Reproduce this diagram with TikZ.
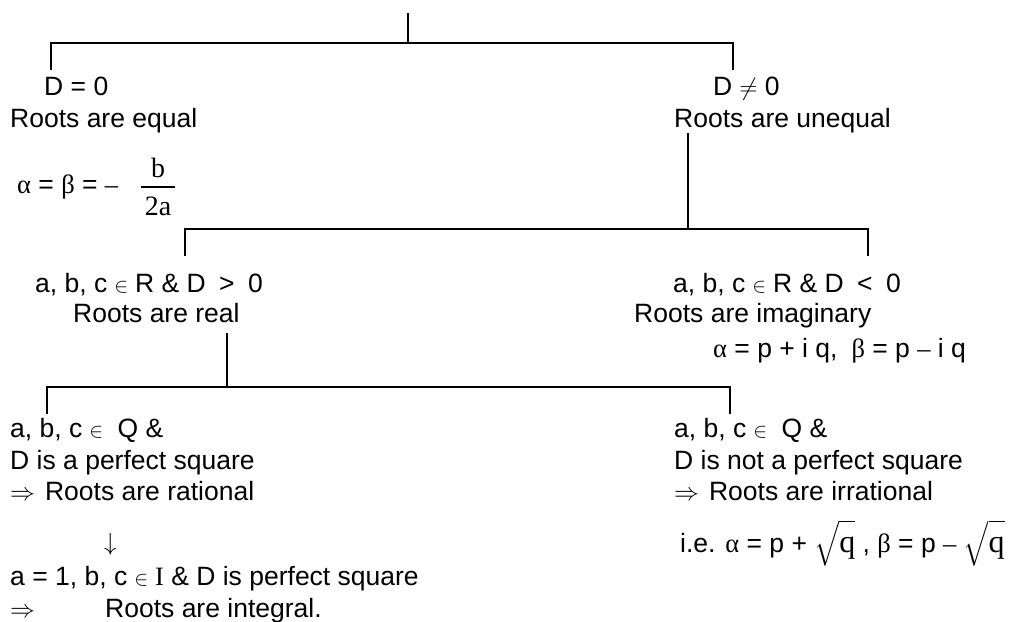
\documentclass[tikz,border=0pt]{standalone}
\usepackage{amsmath}
\usepackage{fontspec}
\setmainfont{Liberation Sans}
\newfontfamily\serif{Liberation Serif}
\newcommand{\elem}{\hspace{7pt}{\fontsize{20}{20}\selectfont$\in$}\hspace{7pt}}
\newcommand{\gr}[1]{{\serif #1}}
\newcommand{\sq}{$\sqrt{\rule[-4pt]{0pt}{25pt}\hbox{\serif\fontsize{32}{32}\selectfont q}}$}
\newcommand{\imp}{{\fontsize{30}{30}\selectfont$\Rightarrow$}\hspace{10pt}}
\begin{document}
\begin{tikzpicture}[x=1pt,y=-1pt,
  txt/.style={anchor=base west, inner sep=0pt, font=\fontsize{26.5}{31}\selectfont},
  sertxt/.style={anchor=base, inner sep=0pt, font=\serif\fontsize{28}{31}\selectfont},
  conn/.style={line width=2.6pt, line join=miter}]
\useasboundingbox (0,0) rectangle (1014,621);

% texts
\node[txt] (d0) at (44,95) {D = 0};
\node[txt] (req) at (10,127) {Roots are equal};
\node[txt] (ab) at (17,193) {\gr{α} = \gr{β} = \gr{–}};
\node[sertxt] (fb) at (158,177) {b};
\node[sertxt] (fa) at (158,215) {2a};
\coordinate (fl) at (141,187);
\coordinate (fr) at (175,187);
\draw[line width=1.3pt] (fl) -- (fr);

\node[txt] (dn) at (713,95) {D $\neq$ 0};
\node[txt] (rne) at (674,127) {Roots are unequal};

\node[txt] (pos) at (35,292) {a, b, c\elem R \& D\hspace{6pt} > \hspace{6pt}0};
\node[txt] (real) at (73,322) {Roots are real};
\node[txt] (neg) at (673,292) {a, b, c\elem R \& D\hspace{6pt} < \hspace{6pt}0};
\node[txt] (imag) at (634,322) {Roots are imaginary};
\node[txt] (cplx) at (713,357) {\gr{α} = p + i q,\hspace{14pt}\gr{β} = p \gr{–} i q};

\node[txt] (q1) at (10,437) {a, b, c\elem\ Q \&};
\node[txt] (q2) at (10,469) {D is a perfect square};
\node[txt] (q3) at (10,500) {\imp Roots are rational};
\node[txt] (arr) at (104,550) {$\downarrow$};
\node[txt] (i1) at (10,585) {a = 1, b, c\elem\gr{I} \& D is perfect square};
\node[txt] (i2) at (10,617) {{\fontsize{30}{30}\selectfont$\Rightarrow$}};
\node[txt] (i3) at (105,617) {Roots are integral.};

\node[txt] (r1) at (674,437) {a, b, c\elem\ Q \&};
\node[txt] (r2) at (674,469) {D is not a perfect square};
\node[txt] (r3) at (674,500) {\imp Roots are irrational};
\node[txt] (r4) at (680,552) {i.e. \gr{α} = p + \sq\ , \gr{β} = p \gr{–}\ \sq};

% connector coordinates
\coordinate (top) at (408,13);
\coordinate (t1) at (408,43);
\coordinate (t1l) at (51,43);
\coordinate (t1r) at (733,43);
\coordinate (d0t) at (51,70);
\coordinate (dnt) at (733,70);

\coordinate (u0) at (688,133);
\coordinate (u1) at (688,229);
\coordinate (u1l) at (185,229);
\coordinate (u1r) at (868,229);
\coordinate (post) at (185,256);
\coordinate (negt) at (868,256);

\coordinate (s0) at (227,333);
\coordinate (s1) at (227,387);
\coordinate (s1l) at (47,387);
\coordinate (s1r) at (730,387);
\coordinate (q1t) at (47,414);
\coordinate (r1t) at (730,414);

\draw[conn] (top) -- (t1);
\draw[conn] (d0t) -- (t1l) -- (t1r) -- (dnt);
\draw[conn] (u0) -- (u1);
\draw[conn] (post) -- (u1l) -- (u1r) -- (negt);
\draw[conn] (s0) -- (s1);
\draw[conn] (q1t) -- (s1l) -- (s1r) -- (r1t);
\end{tikzpicture}
\end{document}
